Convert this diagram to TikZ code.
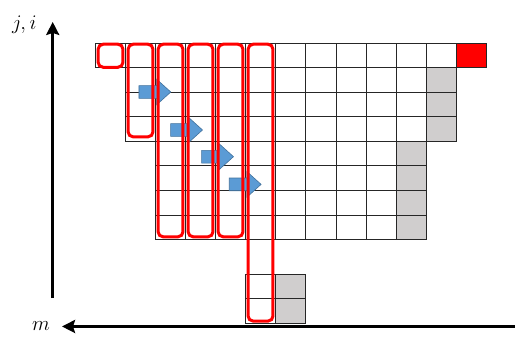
\documentclass[tikz,border=0pt]{standalone}
\usepackage{amsmath}
\usepackage{tikz}
\usetikzlibrary{arrows.meta,positioning}
\definecolor{hotred}{HTML}{FF0000}
\definecolor{shadegray}{HTML}{D0CECE}
\definecolor{flowblue}{HTML}{5B9BD5}
\definecolor{flowedge}{HTML}{41719C}
\begin{document}
\begin{tikzpicture}[x=30pt,y=-24.5pt,
cell/.style={draw=black!85,line width=1pt},
redbox/.style={draw=hotred,line width=3pt,rounded corners=5pt},
blk/.style={fill=flowblue,draw=flowedge,line width=0.6pt},
axis/.style={line width=3pt,-{Stealth[length=13pt,width=13pt,inset=2pt]}},
lbl/.style={inner sep=0pt,font=\huge}]
\useasboundingbox (-3.2,-1.7755) rectangle (13.9667,11.939);
\foreach \r/\a/\b in %
{0/0/11,1/1/10,2/1/10,3/1/10,4/2/9,5/2/9,6/2/9,7/2/9} {
   \foreach \c in {\a,...,\b}
      \draw[cell] (\c,\r) rectangle ++(1,1);
}
\draw[cell,fill=hotred] (12,0) rectangle ++(1,1);
\foreach \r in {1,2,3}
   \draw[cell,fill=shadegray] (11,\r) rectangle ++(1,1);
\foreach \r in {4,...,7}
   \draw[cell,fill=shadegray] (10,\r) rectangle ++(1,1);
\foreach \r in {9.42,10.42} {
   \draw[cell] (5,\r) rectangle ++(1,1);
   \draw[cell,fill=shadegray] (6,\r) rectangle ++(1,1);
}
\foreach \x/\y in %
{1.433/1.98,2.49/3.53,3.523/4.62,4.443/5.75} {
   \draw[blk] (\x,\y) ++(0,-0.26) -- ++(0.59,0) -- ++(0,-0.26) -- ++(0.47,0.52)
      -- ++(-0.47,0.52) -- ++(0,-0.26) -- ++(-0.59,0) -- cycle;
}
\foreach \c/\b in %
{0/0.97,1/3.81,2/7.89,3/7.89,4/7.89,5/11.33} {
   \draw[redbox] (\c+0.07,0.03) rectangle (\c+0.9,\b);
}
\coordinate (yfoot) at (-1.443,10.39);
\coordinate (ytip) at (-1.443,-0.88);
\coordinate (xstart) at (13.97,11.55);
\coordinate (xtip) at (-1.133,11.55);
\draw[axis] (yfoot) -- (ytip);
\draw[axis] (xstart) -- (xtip);
\node[lbl,left=16pt of ytip,yshift=-3pt] (jlab) {$j,i$};
\node[lbl,left=12pt of xtip] (mlab) {$m$};
\end{tikzpicture}
\end{document}
